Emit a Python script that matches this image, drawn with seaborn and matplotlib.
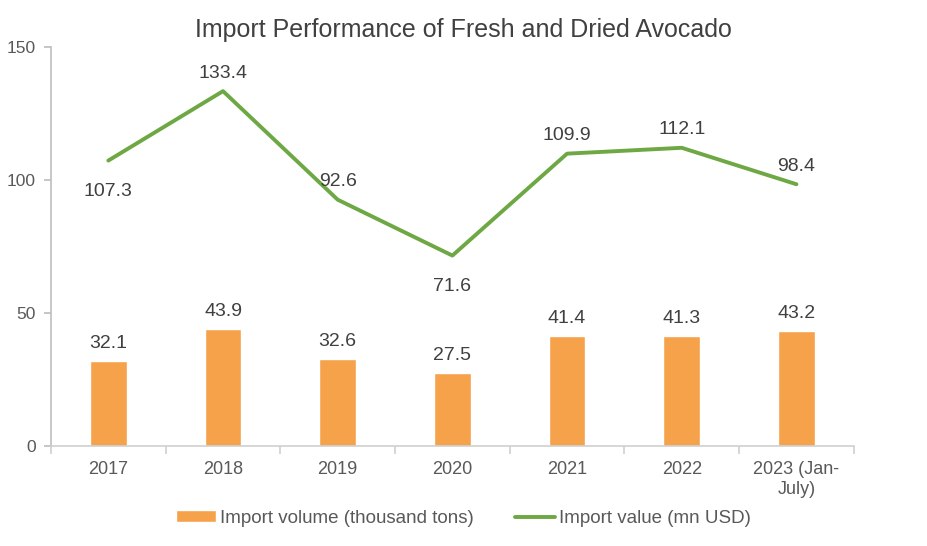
import pandas as pd
import numpy as np
import matplotlib
matplotlib.use("Agg")
import matplotlib.pyplot as plt
import seaborn as sns

sns.set_theme(style="white")
plt.rcParams["font.family"] = ["Liberation Sans", "DejaVu Sans"]

# Data
years = ["2017", "2018", "2019", "2020", "2021", "2022", "2023 (Jan-\nJuly)"]
volume = [32.1, 43.9, 32.6, 27.5, 41.4, 41.3, 43.2]
value = [107.3, 133.4, 92.6, 71.6, 109.9, 112.1, 98.4]
value_above = [False, True, True, False, True, True, True]

df = pd.DataFrame({"year": years, "volume": volume, "value": value})

text_color = "#404040"
tick_color = "#595959"
orange = "#F5A24B"
green = "#6EA844"

fig = plt.figure(figsize=(9.27, 5.46), dpi=100)
ax = fig.add_axes([0.055, 0.183, 0.866, 0.731])

sns.barplot(data=df, x="year", y="volume", color=orange, width=0.32,
            saturation=1, ax=ax, label="Import volume (thousand tons)")
sns.lineplot(data=df, x="year", y="value", color=green, linewidth=2.8,
             sort=False, ax=ax, label="Import value (mn USD)")

# Data labels
for i, v in enumerate(volume):
    ax.annotate(f"{v:.1f}", xy=(i, v), xytext=(0, 12.5), textcoords="offset points",
                ha="center", va="center", fontsize=14, color=text_color)
for i, (v, up) in enumerate(zip(value, value_above)):
    off = 13 if up else -22
    ax.annotate(f"{v:.1f}", xy=(i, v), xytext=(0, off), textcoords="offset points",
                ha="center", va="center", fontsize=14, color=text_color)

ax.set_xlim(-0.5, len(years) - 0.5)
ax.set_ylim(0, 150)
ax.set_yticks([0, 50, 100, 150])
ax.set_xlabel("")
ax.set_ylabel("")
fig.suptitle("Import Performance of Fresh and Dried Avocado", fontsize=18,
             color=text_color, x=0.5, y=0.945, va="center")

for s in ["top", "right"]:
    ax.spines[s].set_visible(False)
ax.spines["left"].set_color("#BFBFBF")
ax.spines["bottom"].set_color("#D0D0D0")
ax.spines["left"].set_linewidth(1.2)
ax.spines["bottom"].set_linewidth(1.2)

ax.tick_params(axis="y", left=True, length=5, color="#BFBFBF", labelsize=12.5,
               labelcolor=tick_color, pad=6)
ax.tick_params(axis="x", bottom=False, labelsize=13, labelcolor=tick_color, pad=5)
ax.set_xticks(np.arange(-0.5, len(years), 1), minor=True)
ax.tick_params(axis="x", which="minor", bottom=True, length=6, color="#D0D0D0", width=1.2)

handles, labels = ax.get_legend_handles_labels()
order = [labels.index("Import volume (thousand tons)"), labels.index("Import value (mn USD)")]
ax.legend_.remove()
fig.legend([handles[k] for k in order], [labels[k] for k in order],
           loc="center", bbox_to_anchor=(0.5, 0.051), ncol=2, frameon=False,
           fontsize=13.5, labelcolor=tick_color, handlelength=2.15, handleheight=0.55,
           handletextpad=0.2, columnspacing=2.2)

fig.savefig("out.png", dpi=100, facecolor="white")
